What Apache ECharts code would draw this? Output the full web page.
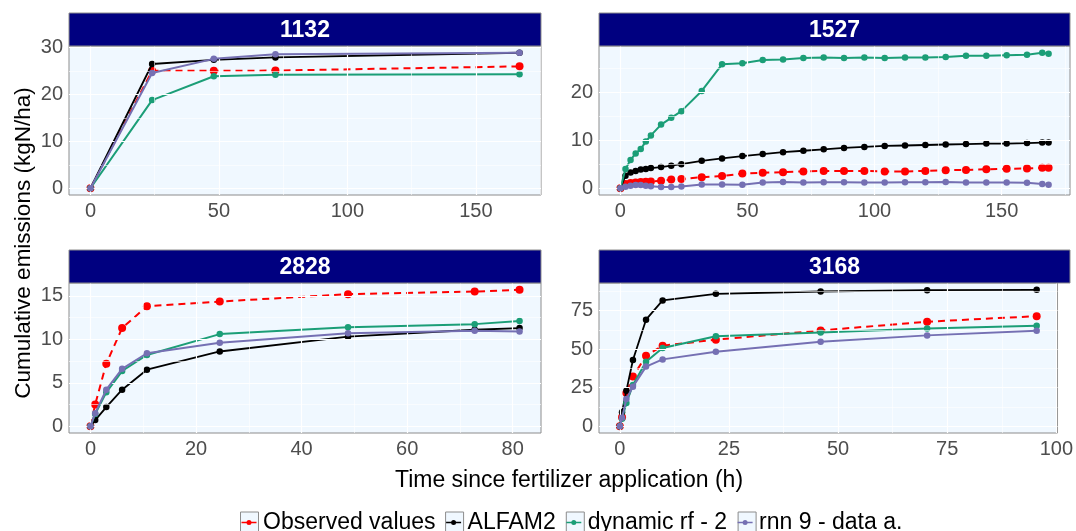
<!DOCTYPE html>
<html>
<head>
<meta charset="utf-8">
<script src="https://cdn.jsdelivr.net/npm/echarts@6/dist/echarts.min.js"></script>
<style>html,body{margin:0;padding:0;background:#fff;}#c{width:1076px;height:531px;}</style>
</head>
<body>
<div id="c"></div>
<script>
// ---------- data ----------
const seriesNames = ['Observed values', 'ALFAM2', 'dynamic rf - 2', 'rnn 9 - data a.'];
const panelTitles = ['1132', '1527', '2828', '3168'];

// panel 1132
const t1132 = [0, 24, 48, 72, 167];
const obs1132 = [0, 25.05, 25.05, 25.1, 26.0];
const alfam1132 = [0, 26.5, 27.4, 27.9, 28.9];
const rf1132 = [0, 18.8, 23.9, 24.2, 24.3];
const rnn1132 = [0, 24.6, 27.6, 28.6, 28.9];

// panel 1527
const t1527 = [0, 2, 4, 6, 8, 10, 12, 16, 20, 24, 32, 40, 48, 56, 64, 72, 80, 88, 96, 104, 112, 120, 128, 136, 144, 152, 160, 166, 168.5];
const obs1527 = [0, 0.9, 1.1, 1.2, 1.3, 1.35, 1.4, 1.55, 1.8, 1.9, 2.3, 2.55, 3.05, 3.2, 3.35, 3.5, 3.6, 3.6, 3.6, 3.5, 3.5, 3.6, 3.75, 3.8, 3.95, 4.05, 4.1, 4.25, 4.25];
const alfam1527 = [0, 2.6, 3.3, 3.6, 3.9, 4.0, 4.2, 4.4, 4.7, 5.0, 5.7, 6.2, 6.7, 7.1, 7.5, 7.8, 8.1, 8.4, 8.6, 8.8, 8.9, 9.0, 9.1, 9.2, 9.3, 9.3, 9.4, 9.5, 9.5];
const rf1527 = [0, 4.0, 5.9, 7.25, 8.15, 9.75, 11.0, 13.25, 14.65, 16.05, 20.25, 25.8, 26.0, 26.7, 26.8, 27.1, 27.2, 27.1, 27.2, 27.1, 27.2, 27.2, 27.3, 27.6, 27.6, 27.7, 27.8, 28.2, 28.0];
const rnn1527 = [0, 0.3, 0.5, 0.65, 0.65, 0.5, 0.4, 0.25, 0.25, 0.35, 0.8, 0.8, 0.7, 1.2, 1.3, 1.2, 1.25, 1.25, 1.2, 1.2, 1.25, 1.25, 1.3, 1.2, 1.2, 1.2, 1.15, 0.9, 0.7];

// panel 2828
const t2828 = [0, 0.9, 3, 6, 10.7, 24.5, 48.8, 72.8, 81.3];
const obs2828 = [0, 2.5, 7.2, 11.3, 13.8, 14.35, 15.2, 15.5, 15.7];
const alfam2828 = [0, 0.7, 2.2, 4.2, 6.5, 8.6, 10.3, 11.1, 11.3];
const rf2828 = [0, 1.4, 3.9, 6.35, 8.2, 10.6, 11.4, 11.75, 12.1];
const rnn2828 = [0, 1.5, 4.2, 6.6, 8.4, 9.6, 10.7, 11.0, 10.9];

// panel 3168
const t3168 = [0, 0.5, 1.5, 3, 6, 9.8, 22, 46, 70.4, 95.5];
const obs3168 = [0, 5.8, 21.6, 32.2, 45.8, 52.3, 56.2, 62.2, 67.9, 71.5];
const alfam3168 = [0, 9.1, 23.1, 43, 69.2, 81.7, 86, 87.5, 88.4, 88.6];
const rf3168 = [0, 4.8, 15.1, 26.8, 41.9, 50.8, 58.4, 60.9, 63.5, 65.3];
const rnn3168 = [0, 5.4, 17.7, 25.7, 38.7, 43.4, 48.4, 54.9, 59, 62];

// tick labels
const xTicks1132 = [0, 50, 100, 150];
const xTicks1527 = [0, 50, 100, 150];
const xTicks2828 = [0, 20, 40, 60, 80];
const xTicks3168 = [0, 25, 50, 75, 100];
const yTicks1132 = [0, 10, 20, 30];
const yTicks1527 = [0, 10, 20];
const yTicks2828 = [0, 5, 10, 15];
const yTicks3168 = [0, 25, 50, 75];

// ---------- build ----------
const FONT = "'Liberation Sans', Arial, Helvetica, sans-serif";
const colors = ['#FF0000', '#000000', '#1B9E77', '#7570B3'];

const panels = [
  { t: t1132, s: [obs1132, alfam1132, rf1132, rnn1132], xt: xTicks1132, yt: yTicks1132 },
  { t: t1527, s: [obs1527, alfam1527, rf1527, rnn1527], xt: xTicks1527, yt: yTicks1527 },
  { t: t2828, s: [obs2828, alfam2828, rf2828, rnn2828], xt: xTicks2828, yt: yTicks2828 },
  { t: t3168, s: [obs3168, alfam3168, rf3168, rnn3168], xt: xTicks3168, yt: yTicks3168 }
];

const boxes = [
  { left: 69, top: 46, width: 472, height: 149 },
  { left: 599, top: 46, width: 471, height: 149 },
  { left: 69, top: 283, width: 472, height: 150 },
  { left: 599, top: 283, width: 471, height: 150 }
];
const STRIP_H = 33;

function expand(lo, hi) { const d = hi - lo; return [lo - 0.05 * d, hi + 0.05 * d]; }
function minors(ticks, lo, hi) {
  const step = ticks[1] - ticks[0];
  const out = [];
  for (let i = -1; i < ticks.length; i++) {
    const v = (i < 0 ? ticks[0] - step : ticks[i]) + step / 2;
    if (v > lo && v < hi) out.push(v);
  }
  return out;
}

const grid = [], xAxis = [], yAxis = [], series = [], graphic = [];

panels.forEach((p, i) => {
  const b = boxes[i];
  grid.push({ left: b.left, top: b.top, width: b.width, height: b.height, show: true,
    backgroundColor: '#F0F8FF', borderColor: '#8c8c8c', borderWidth: 1, containLabel: false });
  const xr = expand(0, Math.max(...p.t));
  let ymax = 0; p.s.forEach(a => { ymax = Math.max(ymax, ...a); });
  const yr = expand(0, ymax);
  const axisCommon = (ticks) => ({
    axisLine: { show: false },
    axisTick: { show: true, length: 4, lineStyle: { color: '#333', width: 1 }, customValues: ticks },
    axisLabel: { customValues: ticks, fontSize: 20, color: '#4d4d4d', fontFamily: FONT, margin: 6 },
    splitLine: { show: false }
  });
  xAxis.push(Object.assign({ type: 'value', gridIndex: i, min: xr[0], max: xr[1] }, axisCommon(p.xt)));
  yAxis.push(Object.assign({ type: 'value', gridIndex: i, min: yr[0], max: yr[1] }, axisCommon(p.yt)));

  // grid lines (white, major + minor)
  const gl = [];
  minors(p.xt, xr[0], xr[1]).forEach(v => gl.push({ xAxis: v, lineStyle: { width: 0.6 } }));
  minors(p.yt, yr[0], yr[1]).forEach(v => gl.push({ yAxis: v, lineStyle: { width: 0.6 } }));
  p.xt.forEach(v => gl.push({ xAxis: v, lineStyle: { width: 1.2 } }));
  p.yt.forEach(v => gl.push({ yAxis: v, lineStyle: { width: 1.2 } }));
  series.push({ type: 'line', xAxisIndex: i, yAxisIndex: i, data: [], silent: true, z: 1,
    markLine: { silent: true, symbol: ['none', 'none'], label: { show: false }, animation: false,
      lineStyle: { color: '#ffffff', type: 'solid', width: 1 }, emphasis: { disabled: true }, data: gl } });

  p.s.forEach((vals, k) => {
    series.push({
      name: seriesNames[k], type: 'line', xAxisIndex: i, yAxisIndex: i, z: 2 + k,
      data: p.t.map((t, j) => [t, vals[j]]),
      symbol: 'circle', symbolSize: k === 0 ? 8 : 6.5, showAllSymbol: true,
      itemStyle: { color: colors[k] },
      lineStyle: { color: colors[k], width: k === 1 ? 1.8 : 2, type: k === 0 ? [7, 5] : 'solid' },
      emphasis: { disabled: true }, animation: false
    });
  });

  // strip
  graphic.push({ type: 'rect', silent: true, z: 10,
    shape: { x: b.left, y: b.top - STRIP_H, width: b.width, height: STRIP_H },
    style: { fill: '#000080', stroke: '#8c8c8c', lineWidth: 1 } });
  graphic.push({ type: 'text', silent: true, z: 11,
    x: b.left + b.width / 2, y: b.top - STRIP_H / 2 + 1,
    style: { text: panelTitles[i], fill: '#ffffff', font: 'bold 23px ' + FONT, align: 'center', verticalAlign: 'middle' } });
});

graphic.push({ type: 'text', silent: true, x: 24, y: 243, rotation: Math.PI / 2,
  style: { text: 'Cumulative emissions (kgN/ha)', fill: '#000', font: '22.5px ' + FONT, align: 'center', verticalAlign: 'middle' } });
graphic.push({ type: 'text', silent: true, x: 569, y: 481,
  style: { text: 'Time since fertilizer application (h)', fill: '#000', font: '23px ' + FONT, align: 'center', verticalAlign: 'middle' } });

const legendBase = {
  data: seriesNames, left: 240, top: 511, orient: 'horizontal',
  itemWidth: 18, itemHeight: 21, itemGap: 9, selectedMode: false, padding: 0
};
const legendBox = Object.assign({}, legendBase, {
  icon: 'rect', z: 3,
  itemStyle: { color: '#F0F8FF', borderColor: '#8c8c8c', borderWidth: 1 },
  textStyle: { color: 'rgba(0,0,0,0)', fontSize: 23, fontFamily: FONT }
});
const legendKey = Object.assign({}, legendBase, {
  icon: 'path://M0,0h0.01v0.01h-0.01Z M17.99,20.99h0.01v0.01h-0.01Z M1.5,9.7H16.5V11.3H1.5Z M11.5,10.5A2.5,2.5,0,1,1,6.5,10.5A2.5,2.5,0,1,1,11.5,10.5Z',
  z: 4,
  textStyle: { color: '#000', fontSize: 23, fontFamily: FONT }
});

const chart = echarts.init(document.getElementById('c'), null, { renderer: 'canvas' });
chart.setOption({
  animation: false,
  backgroundColor: '#ffffff',
  grid, xAxis, yAxis, series, graphic,
  legend: [legendBox, legendKey]
});
</script>
</body>
</html>
